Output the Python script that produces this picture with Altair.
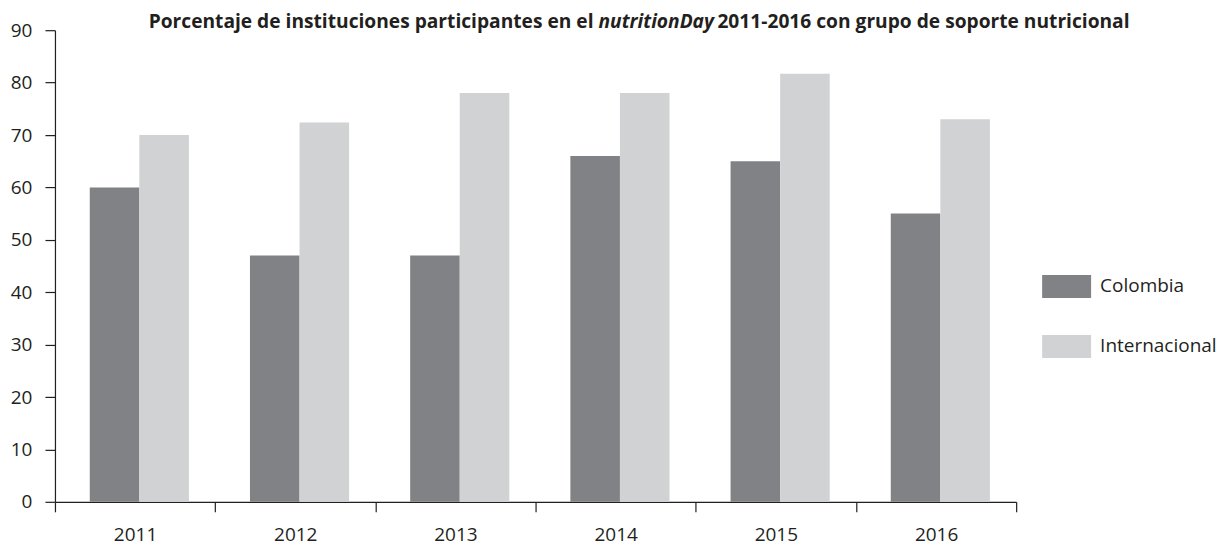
import altair as alt
import pandas as pd

years = ["2011", "2012", "2013", "2014", "2015", "2016"]
colombia = [60, 47, 47, 66, 65, 55]
internacional = [70, 72.4, 78, 78, 81.7, 73]
series = ["Colombia", "Internacional"]
colors = ["#818285", "#d1d2d4"]
title_parts = [
    "Porcentaje de instituciones participantes en el",
    "nutritionDay",
    "2011-2016 con grupo de soporte nutricional",
]

rows = []
for i, yr in enumerate(years):
    rows.append({"year": yr, "serie": series[0], "valor": colombia[i]})
    rows.append({"year": yr, "serie": series[1], "valor": internacional[i]})
df = pd.DataFrame(rows)

FONT = "Open Sans"
TXT = "#231f20"
W, H = 962, 472

bars = alt.Chart(df).mark_bar().encode(
    x=alt.X(
        "year:N", title=None, sort=years,
        scale=alt.Scale(paddingInner=0, paddingOuter=0),
        axis=alt.Axis(labelAngle=0, tickBand="extent", tickSize=10, labelPadding=14,
                      labelFontSize=19, labelFont=FONT, labelColor=TXT,
                      domainColor=TXT, tickColor=TXT, domainWidth=1.2, tickWidth=1.2),
    ),
    xOffset=alt.XOffset("serie:N", sort=series,
                        scale=alt.Scale(paddingInner=0, paddingOuter=0.616, align=0.57)),
    y=alt.Y(
        "valor:Q", title=None,
        scale=alt.Scale(domain=[0, 90], nice=False),
        axis=alt.Axis(values=list(range(0, 91, 10)), grid=False, tickSize=10,
                      labelPadding=13, labelFontSize=19, labelFont=FONT, labelColor=TXT,
                      domainColor=TXT, tickColor=TXT, domainWidth=1.2, tickWidth=1.2),
    ),
    color=alt.Color(
        "serie:N", sort=series,
        scale=alt.Scale(domain=series, range=colors),
        legend=alt.Legend(
            title=None, orient="none", legendX=988, legendY=232, padding=0,
            symbolType="M-1,-0.47L1,-0.47L1,0.47L-1,0.47Z", symbolSize=2401,
            symbolStrokeWidth=0, symbolOpacity=1,
            labelFontSize=19, labelFont=FONT, labelColor=TXT,
            labelOffset=9, rowPadding=23,
        ),
    ),
)

TS = 19.2
t1 = alt.Chart(pd.DataFrame({"t": [title_parts[0]]})).mark_text(
    align="right", baseline="alphabetic", font=FONT, fontSize=TS, fontWeight="bold", color=TXT
).encode(text="t:N", x=alt.value(539), y=alt.value(-2))

t2 = alt.Chart(pd.DataFrame({"t": [title_parts[1]]})).mark_text(
    align="left", baseline="alphabetic", font=FONT, fontSize=TS, fontWeight="bold",
    fontStyle="italic", color=TXT
).encode(text="t:N", x=alt.value(544), y=alt.value(-2))

t3 = alt.Chart(pd.DataFrame({"t": [title_parts[2]]})).mark_text(
    align="left", baseline="alphabetic", font=FONT, fontSize=TS, fontWeight="bold", color=TXT
).encode(text="t:N", x=alt.value(663), y=alt.value(-2))

chart = alt.layer(bars, t1, t2, t3).properties(
    width=W, height=H,
    autosize=alt.AutoSizeParams(type="none"),
    padding={"left": 47, "top": 22, "right": 200, "bottom": 45},
).configure_view(strokeWidth=0)

chart.save("out.html", embed_options={"renderer": "svg", "actions": False})
